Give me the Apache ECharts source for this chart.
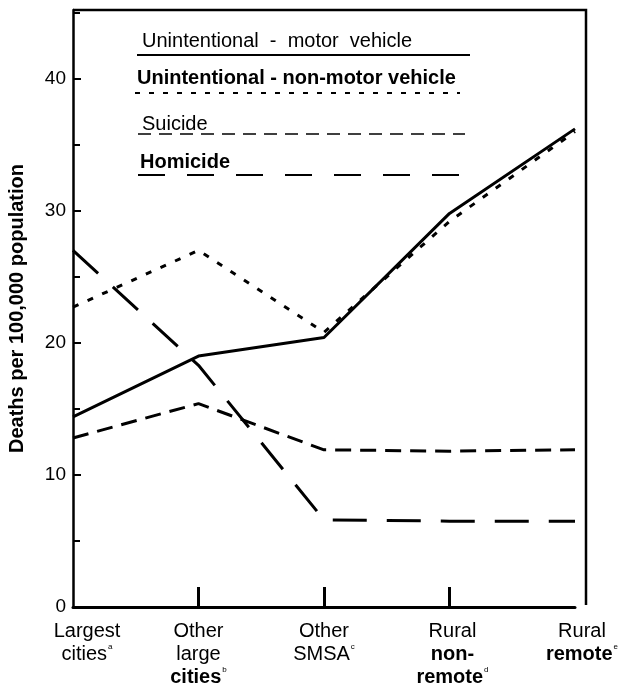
<!DOCTYPE html>
<html>
<head>
<meta charset="utf-8">
<script src="https://cdn.jsdelivr.net/npm/echarts@6/dist/echarts.min.js"></script>
<style>
  html, body { margin: 0; padding: 0; background: #fff; }
  #chart { width: 627px; height: 684px; }
</style>
</head>
<body>
<div id="chart"></div>
<script>
// categories along the bottom
const categories = ['Largest cities', 'Other large cities', 'Other SMSA', 'Rural non-remote', 'Rural remote'];
const categoryLabels = [
  'Largest\ncities{sup|a}',
  'Other\nlarge\n{b|cities}{sup|b}',
  'Other\nSMSA{sup|c}',
  'Rural\n{b|non-}\n{b|remote}{sup|d}',
  'Rural\n{b|remote}{sup|e}'
];

// deaths per 100,000 population
const motorVehicle = [14.4, 19.0, 20.4, 29.8, 36.2];
const nonMotorVehicle = [22.7, 27.0, 20.8, 29.2, 36.0];
const suicide = [12.8, 15.4, 11.9, 11.8, 11.9];
const homicide = [27.0, 18.3, 6.6, 6.5, 6.5];

const yTicks = [0, 10, 20, 30, 40];
const seriesNames = ['Unintentional  -  motor  vehicle', 'Unintentional - non-motor vehicle', 'Suicide', 'Homicide'];

const font = '"Liberation Sans", Arial, sans-serif';
const myChart = echarts.init(document.getElementById('chart'));

// legend drawn as text with the line sample underneath, like the original
function legendItem(name, tx, ty, lx1, lx2, ly, width, dash, bold) {
  return [
    {
      type: 'text',
      x: tx, y: ty,
      style: {
        text: name, fill: '#000',
        font: (bold ? 'bold ' : '') + '20px ' + font,
        verticalAlign: 'middle', textVerticalAlign: 'middle'
      }
    },
    {
      type: 'line',
      shape: {x1: lx1, y1: ly, x2: lx2, y2: ly},
      style: {stroke: '#000', lineWidth: width, lineDash: dash}
    }
  ];
}

// first and last labels sit a little right of their tick in the original
const labelPad = [28, 0, 0, 6, 14];

const option = {
  animation: false,
  backgroundColor: '#fff',
  grid: {left: 73, right: 52, top: 10, bottom: 77, containLabel: false, outerBoundsMode: 'none'},
  xAxis: {
    type: 'category',
    boundaryGap: false,
    data: categories.map((c, i) => ({value: c, textStyle: {padding: [0, 0, 0, labelPad[i]]}})),
    axisLine: {lineStyle: {color: '#000', width: 3}},
    axisTick: {
      inside: true, length: 20,
      lineStyle: {color: '#000', width: 3},
      interval: (i) => i > 0 && i < 4
    },
    axisLabel: {
      interval: 0,
      margin: 13,
      color: '#000',
      fontFamily: font,
      fontSize: 20,
      lineHeight: 23,
      formatter: (v, i) => categoryLabels[i],
      rich: {
        b: {fontWeight: 'bold', fontSize: 20, fontFamily: font, lineHeight: 23},
        sup: {fontSize: 8, fontFamily: font, verticalAlign: 'top', lineHeight: 14, padding: [0, 0, 0, 1]}
      }
    },
    splitLine: {show: false}
  },
  yAxis: {
    type: 'value',
    min: 0, max: 45.2, interval: 10,
    name: 'Deaths per 100,000 population',
    nameLocation: 'middle',
    nameGap: 46,
    nameTextStyle: {color: '#000', fontFamily: font, fontSize: 20, fontWeight: 'bold'},
    axisLine: {show: true, lineStyle: {color: '#000', width: 2.5}},
    axisTick: {show: true, inside: true, length: 8, lineStyle: {color: '#000', width: 2}},
    minorTick: {show: true, splitNumber: 2, length: 7, lineStyle: {color: '#000', width: 2}},
    axisLabel: {
      color: '#000', fontFamily: font, fontSize: 19, margin: 7,
      formatter: (v) => yTicks.includes(v) ? String(v) : ''
    },
    splitLine: {show: false}
  },
  graphic: [
    {
      type: 'polyline',
      shape: {points: [[73, 10], [586, 10], [586, 605]]},
      style: {stroke: '#000', lineWidth: 2.5, fill: null}
    },
    ...legendItem(seriesNames[0], 142, 41, 137, 470, 55, 2, null, false),
    ...legendItem(seriesNames[1], 137, 78, 135, 460, 93, 2, [5, 9], true),
    ...legendItem(seriesNames[2], 142, 124, 138, 465, 134, 1.5, [13, 8], false),
    ...legendItem(seriesNames[3], 140, 162, 138, 470, 175, 2, [27, 22], true)
  ],
  series: [
    {
      name: seriesNames[0], type: 'line', data: motorVehicle, symbol: 'none',
      lineStyle: {color: '#000', width: 3, type: 'solid'}
    },
    {
      name: seriesNames[1], type: 'line', data: nonMotorVehicle, symbol: 'none',
      lineStyle: {color: '#000', width: 3, type: [6, 10]}
    },
    {
      name: seriesNames[2], type: 'line', data: suicide, symbol: 'none',
      lineStyle: {color: '#000', width: 3, type: [16, 9]}
    },
    {
      name: seriesNames[3], type: 'line', data: homicide, symbol: 'none',
      lineStyle: {color: '#000', width: 3, type: [34, 20]}
    }
  ]
};

myChart.setOption(option);
</script>
</body>
</html>
